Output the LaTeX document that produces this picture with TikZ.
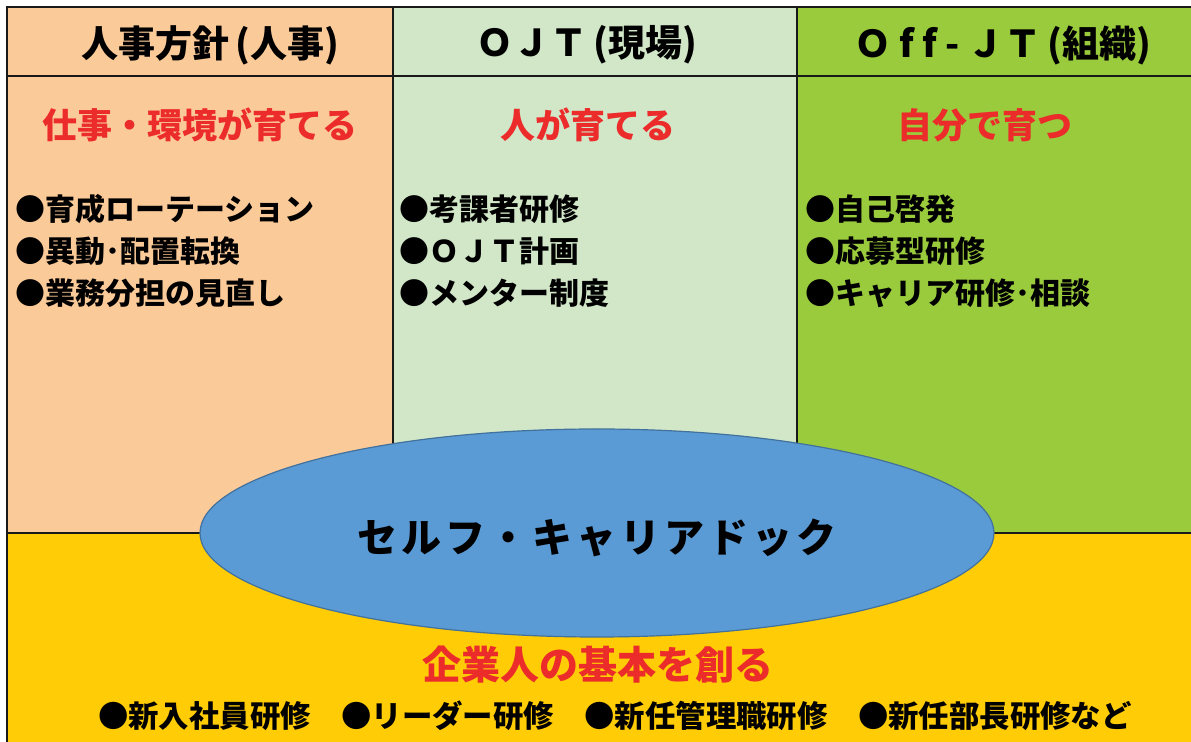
\documentclass[tikz,border=0pt]{standalone}
\usepackage{fontspec}
\setmainfont{Noto Sans CJK JP}
\newfontfamily\jpwide{Noto Sans CJK JP}[LetterSpace=10]
\usepackage{xcolor}
\usetikzlibrary{shapes.geometric}

\definecolor{peach}{HTML}{FBCA99}
\definecolor{palegreen}{HTML}{D1E7C8}
\definecolor{leafgreen}{HTML}{9ACB3C}
\definecolor{gold}{HTML}{FFCC05}
\definecolor{dockblue}{HTML}{5B9BD5}
\definecolor{dockedge}{HTML}{41719C}
\definecolor{mottored}{HTML}{EC2B2B}

\tikzset{
  head/.style={font=\fontsize{18.5}{20}\selectfont\bfseries, inner sep=0},
  motto/.style={font=\fontsize{17.5}{20}\selectfont\bfseries, text=mottored, inner sep=0},
  item/.style={font=\fontsize{15}{18}\selectfont\bfseries, anchor=west, inner sep=0},
  rule/.style={line width=1.1pt, draw=black!90}
}

\begin{document}
\begin{tikzpicture}[x=0.5pt,y=-0.5pt]
\clip (0,0) rectangle (1191,742);

% Column backgrounds
\fill[peach] (7,7) rectangle (393,533);
\fill[palegreen] (393,7) rectangle (797,533);
\fill[leafgreen] (797,7) rectangle (1200,533);
\fill[gold] (7,533) rectangle (1200,750);

% Frame lines
\draw[rule] (7,750) -- (7,7) -- (1200,7);
\draw[rule] (7,76) -- (1200,76);
\draw[rule] (7,533) -- (1200,533);
\draw[rule, line width=0.7pt] (393,7) -- (393,533);
\draw[rule] (797,7) -- (797,533);

% Headings
\node[head] (hr) at (210,45) {人事方針\,(人事)};
\node[head] (ojt) at (587,45) {ＯＪＴ\,(現場)};
\node[head] (offjt) at (1003,45) {Ｏ\hspace{4pt}f\hspace{4pt}f\hspace{4pt}-\hspace{4pt}ＪＴ\,(組織)};

% Mottos
\node[motto] (m1) at (200,125) {仕事・環境が育てる};
\node[motto] (m2) at (588,125) {人が育てる};
\node[motto] (m3) at (985,125) {自分で育つ};

% Items
\node[item] (a1) at (15,209) {●育成ローテーション};
\node[item] (a2) at (15,251) {●異動･配置転換};
\node[item] (a3) at (15,293) {●業務分担の見直し};
\node[item] (b1) at (399,209) {●考課者研修};
\node[item] (b2) at (399,251) {●ＯＪＴ計画};
\node[item] (b3) at (399,293) {●メンター制度};
\node[item] (c1) at (805,209) {●自己啓発};
\node[item] (c2) at (805,251) {●応募型研修};
\node[item] (c3) at (805,293) {●キャリア研修･相談};

% Self career dock
\node[ellipse, fill=dockblue, draw=dockedge, line width=0.6pt, inner sep=0,
      minimum width=397pt, minimum height=104pt,
      font=\jpwide\fontsize{20}{22}\selectfont\bfseries] (dock) at (597,533)
  {\raisebox{-9.6pt}[0pt][0pt]{セルフ・キャリアドック}};

% Base training
\node[motto, font=\fontsize{19.5}{22}\selectfont\bfseries] (base) at (598,665) {企業人の基本を創る};
\node[item, anchor=center, font=\fontsize{15.2}{18}\selectfont\bfseries] (basics) at (615,716)
  {●新入社員研修　●リーダー研修　●新任管理職研修　●新任部長研修など};
\end{tikzpicture}
\end{document}
